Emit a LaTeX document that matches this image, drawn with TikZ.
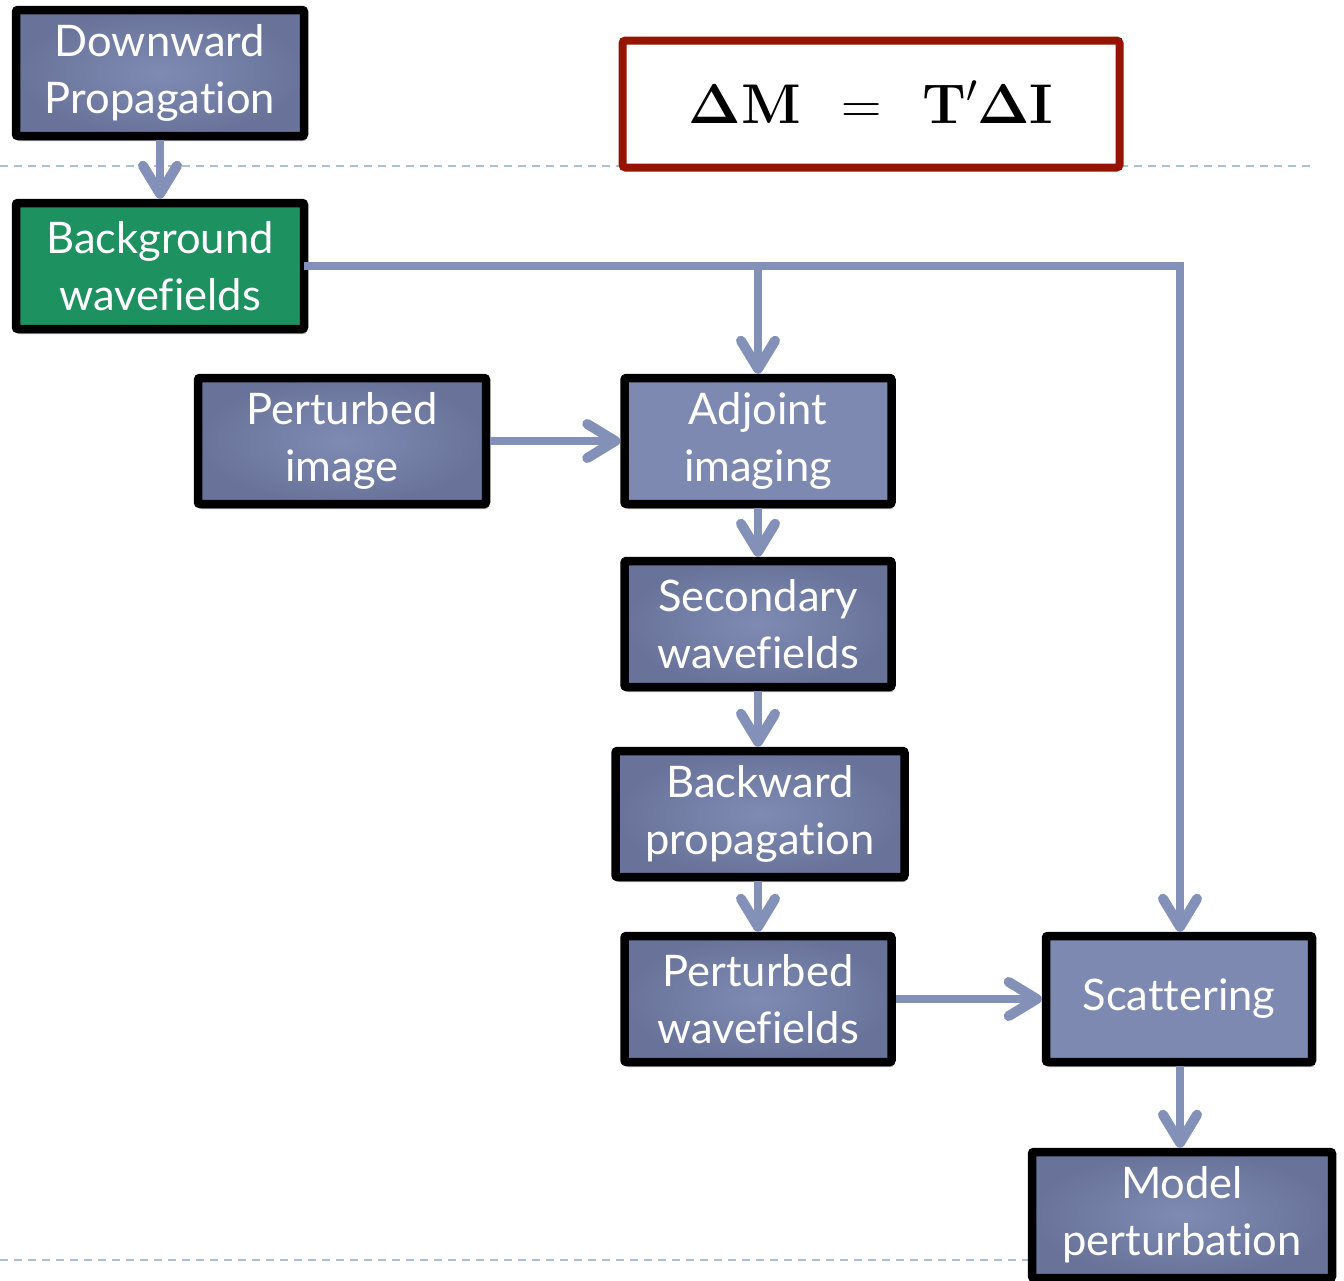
\documentclass[tikz,border=0pt]{standalone}
\usepackage{fix-cm}
\usepackage[no-math]{fontspec}
\setsansfont{Lato}[Ligatures=NoCommon]
\usetikzlibrary{arrows.meta,shadows}
\definecolor{boxmid}{HTML}{7F8BB3}
\definecolor{boxedge}{HTML}{69739A}
\definecolor{boxflat}{HTML}{7D89B0}
\definecolor{bggreen}{HTML}{1E9161}
\definecolor{flow}{HTML}{8391B9}
\definecolor{rule}{HTML}{AABFD1}
\definecolor{eqred}{HTML}{951300}
\tikzset{
  stepbox/.style={draw=black, line width=8.5pt, rounded corners=2pt,
    minimum height=126pt, text=white, align=center,
    font=\sffamily\fontsize{43.5}{57}\selectfont,
    drop shadow={shadow xshift=2pt, shadow yshift=-5pt, opacity=.3, fill=black}},
  shaded/.style={stepbox, inner color=boxmid, outer color=boxedge},
  flat/.style={stepbox, fill=boxflat},
  flowline/.style={draw=flow, line width=7.5pt,
    -{Straight Barb[length=28pt, width=34pt, line width=10pt, line cap=round, line join=round]}},
  guide/.style={draw=rule, line width=2.5pt, dash pattern=on 8pt off 6pt},
}
\begin{document}
\begin{tikzpicture}[x=1pt, y=-1pt]
\useasboundingbox (0,0) rectangle (1344,1280);
% section guides
\draw[guide] (0,166) -- (1310,166);
\draw[guide] (0,1260) -- (1030,1260);

% equation
\node[draw=eqred, line width=8pt, rounded corners=3pt, minimum width=497pt,
      minimum height=127pt, font=\fontsize{56}{60}\selectfont] (eq) at (871,104)
  {\raisebox{4pt}{$\mathbf{\Delta M}\mskip8mu=\mskip8mu\mathbf{T}'\mathbf{\Delta I}$}};

% process boxes
\node[shaded, minimum width=288pt] (down) at (160,73) {Downward\\Propagation};
\node[stepbox, fill=bggreen, minimum width=288pt] (bg) at (160,266) {Background\\wavefields};
\node[shaded, minimum width=288pt] (pimg) at (342,441) {Perturbed\\image};
\node[flat, minimum width=267pt] (adj) at (758,441) {Adjoint\\imaging};
\node[shaded, minimum width=267pt] (sec) at (758,624) {Secondary\\wavefields};
\node[shaded, minimum width=289pt] (back) at (760,814) {Backward\\propagation};
\node[shaded, minimum width=267pt] (pwf) at (758,999) {Perturbed\\wavefields};
\node[flat, minimum width=266pt] (scat) at (1179,999) {Scattering};
\node[shaded, minimum width=300pt] (model) at (1182,1215) {Model\\perturbation};

% junctions on the background feed
\coordinate (tap) at (758,266);
\coordinate (corner) at (1180,266);

% connectors
\draw[flowline] (down.south) -- (bg.north);
\draw[draw=flow, line width=7.5pt] ([xshift=-4pt]bg.east) -- ([xshift=3.75pt]corner);
\draw[flowline] (tap) -- (adj.north);
\draw[flowline] ([yshift=-3.75pt]corner) -- (corner |- scat.north);
\draw[flowline] (pimg.east) -- (adj.west);
\draw[flowline] (adj.south) -- (sec.north);
\draw[flowline] (sec.south) -- (sec.south |- back.north);
\draw[flowline] (back.south -| pwf.south) -- (pwf.north);
\draw[flowline] (pwf.east) -- (scat.west);
\draw[flowline] (scat.south -| 1180,0) -- (1180,0 |- model.north);
\end{tikzpicture}
\end{document}
